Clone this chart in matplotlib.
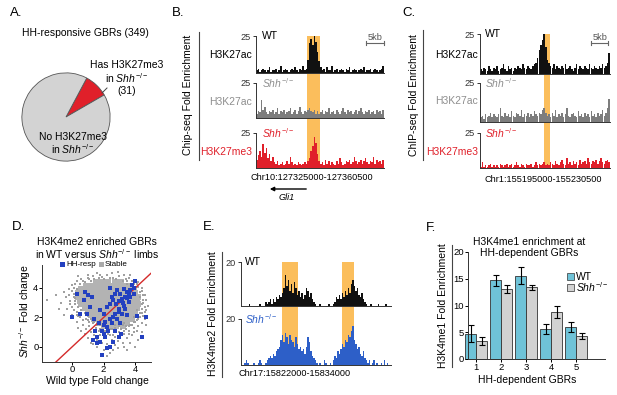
import numpy as np
import matplotlib
matplotlib.use("Agg")
import matplotlib.pyplot as plt
from matplotlib.lines import Line2D
from matplotlib.patches import Rectangle, FancyArrowPatch

plt.rcParams['font.family'] = ['Liberation Sans', 'DejaVu Sans']
plt.rcParams['mathtext.fontset'] = 'custom'
plt.rcParams['mathtext.rm'] = 'Liberation Sans'
plt.rcParams['mathtext.it'] = 'Liberation Sans:italic'
plt.rcParams['mathtext.bf'] = 'Liberation Sans:bold'

# ---------------- data ----------------
pie_labels = ["Has H3K27me3", "No H3K27me3"]
pie_counts = [31, 318]

B_WT_AC = [2,3,1,2,3,2,1,2,4,1, 2,2,3,1,2,5,1,2,3,2, 1,2,3,2,4,2,1,3,2,5, 2,3,9,20,23,19,25,21,14,8,
           4,2,3,1,4,2,2,5,1,2, 3,1,2,3,2,1,3,2,4,1, 2,3,2,1,2,3,2,4,1,2, 2,3,1,2,3,2,1,2,3,5]
B_SHH_AC = [3,5,4,13,6,8,4,3,5,4, 6,3,4,7,3,5,4,6,3,4, 5,7,3,4,6,3,5,8,4,3, 5,4,6,7,5,4,6,3,5,3,
            4,6,3,5,4,7,3,4,5,3, 6,4,3,5,7,4,3,6,4,5, 3,4,6,3,5,7,4,3,5,4, 6,3,4,5,3,6,4,5,3,6]
B_SHH_ME3 = [6,9,12,8,17,11,14,7,10,5, 8,4,3,5,2,3,4,2,3,5, 3,8,4,2,3,2,4,3,2,3, 4,3,5,7,12,16,22,18,10,5,
             3,4,2,6,3,5,2,4,3,2, 5,3,7,4,2,3,5,4,6,3, 4,8,5,3,4,6,3,5,7,4, 3,5,4,8,3,6,4,5,3,6]
B_HIGHLIGHT = (31.5, 39.5)

C_WT_AC = [3,2,4,3,2,5,3,2,4,3, 5,2,3,4,6,3,2,5,3,4, 2,4,3,5,4,3,6,4,3,5, 4,3,5,6,7,10,15,18,21,25,
           17,9,7,5,4,6,3,5,4,3, 5,4,6,3,4,5,3,2,4,6, 3,5,4,3,5,4,3,6,4,3, 5,4,3,5,4,6,4,5,7,13]
C_SHH_AC = [3,4,2,5,3,4,6,3,5,4, 3,5,9,4,3,6,4,5,3,7, 4,3,6,5,4,8,3,5,4,6, 3,5,4,7,5,4,6,5,8,9,
            6,4,5,3,6,4,8,3,5,4, 6,3,5,9,4,3,5,6,4,3, 7,4,5,3,6,4,5,3,7,4, 5,3,6,4,5,8,4,6,9,15]
C_SHH_ME3 = [1,4,1,2,1,2,3,1,2,1, 2,1,3,2,1,2,3,1,2,3, 1,2,4,2,1,3,2,1,3,2, 2,3,1,2,4,2,3,2,3,4,
             2,3,2,4,3,2,5,3,2,4, 6,3,2,7,3,4,2,5,3,4, 2,6,3,4,5,3,7,4,3,5, 4,6,3,5,7,4,3,5,6,4]
C_HIGHLIGHT = (38.7, 42.5)

E_WT = [0,0,0,0,0,1,0,0,0,0, 0,0,1,0,0,0,2,1,2,3, 1,3,2,4,3,5,4,6,8,14, 9,12,7,10,6,11,8,5,7,4,
        6,3,5,8,7,4,6,3,2,1, 0,0,1,0,0,0,0,0,1,0, 0,1,2,4,3,5,3,6,4,7, 5,8,6,10,12,9,7,8,5,4,
        6,3,2,1,0,0,1,0,0,0, 0,1,0,0,0,0,1,0,0,0]
E_SHH = [0,0,1,2,1,0,0,0,1,0, 0,1,2,1,0,0,1,2,3,4, 3,5,4,6,7,8,11,13,10,14, 12,9,13,11,10,8,12,9,7,8,
         6,7,5,8,12,10,6,4,3,2, 1,0,1,0,0,2,1,0,0,1, 0,2,4,3,6,5,7,9,8,11, 10,13,12,15,17,11,9,7,8,5,
         4,6,3,2,1,2,0,1,2,0, 1,0,0,1,0,2,0,1,0,0]
E_HIGHLIGHT_1 = (27.0, 37.5)
E_HIGHLIGHT_2 = (67.0, 74.5)

core_rows = {
    4.4: [1.5, 1.9, 2.3, 2.7, 3.1],
    4.15: [0.9, 1.2, 1.5, 1.8, 2.1, 2.4, 2.7, 3.0, 3.3, 3.6],
    3.9: [0.6, 0.9, 1.2, 1.5, 1.8, 2.1, 2.4, 2.7, 3.0, 3.3, 3.6, 3.9],
    3.65: [0.4, 0.7, 1.0, 1.3, 1.6, 1.9, 2.2, 2.5, 2.8, 3.1, 3.4, 3.7, 4.0],
    3.4: [0.4, 0.7, 1.0, 1.3, 1.6, 1.9, 2.2, 2.5, 2.8, 3.1, 3.4, 3.7, 4.0, 4.2],
    3.15: [0.5, 0.8, 1.1, 1.4, 1.7, 2.0, 2.3, 2.6, 2.9, 3.2, 3.5, 3.8, 4.1],
    2.9: [0.6, 0.9, 1.2, 1.5, 1.8, 2.1, 2.4, 2.7, 3.0, 3.3, 3.6, 3.9, 4.2],
    2.65: [0.8, 1.1, 1.4, 1.7, 2.0, 2.3, 2.6, 2.9, 3.2, 3.5, 3.8, 4.1],
    2.4: [1.0, 1.3, 1.6, 1.9, 2.2, 2.5, 2.8, 3.1, 3.4, 3.7, 4.0],
    2.15: [1.2, 1.5, 1.8, 2.1, 2.4, 2.7, 3.0, 3.3, 3.6, 3.9],
    1.9: [1.4, 1.7, 2.0, 2.3, 2.6, 2.9, 3.2, 3.5, 3.8],
    1.65: [1.7, 2.0, 2.3, 2.6, 2.9, 3.2, 3.5],
    1.4: [2.0, 2.4, 2.8, 3.2],
}
stable_sparse = [(0.3,4.5),(0.6,4.6),(1.0,4.7),(1.3,4.8),(1.9,4.75),(2.2,4.9),(2.6,4.7),(3.0,4.8),(3.4,4.6),
    (3.8,4.5),(4.1,4.3),(4.4,4.0),(3.7,4.9),(1.6,5.0),(2.9,5.1),(0.0,4.2),(-0.2,3.9),(0.1,3.6),(-0.4,3.4),
    (-0.1,3.1),(0.2,2.9),(-0.3,2.6),(0.3,2.4),(0.0,2.2),(0.5,2.0),(0.3,1.7),(0.7,1.5),(1.0,1.8),(0.9,1.2),
    (1.2,1.0),(1.1,1.4),(1.4,0.8),(1.5,1.3),(1.7,1.1),(1.6,0.5),(1.8,0.8),(1.9,0.3),(2.0,1.0),(2.1,0.6),
    (2.2,0.2),(2.3,0.9),(2.4,1.2),(2.5,0.5),(2.6,0.8),(2.7,0.1),(2.8,1.0),(2.9,0.4),(3.0,0.7),(3.1,1.2),
    (3.2,0.3),(3.3,0.9),(3.4,1.4),(3.5,0.6),(3.6,1.1),(3.7,1.5),(3.8,0.8),(3.9,1.3),(4.0,1.7),(4.1,1.1),
    (4.2,1.9),(4.3,2.3),(4.4,2.6),(4.5,3.0),(4.6,2.4),(4.5,3.5),(4.7,3.2),(4.4,1.6),(4.6,1.9),(4.8,2.8),
    (-1.6,3.2),(-0.7,3.0),(-0.5,2.2),(0.6,1.1),(1.3,0.2),(2.0,-0.2),(2.4,-0.4),(2.9,-0.1),(3.3,0.0),
    (3.7,0.3),(1.0,0.6),(0.4,1.3),(4.2,0.5),(4.0,0.0),(2.6,-0.2),(0.8,4.4),(1.2,4.5),(3.5,4.3),(4.0,3.9),
    (4.3,3.7),(0.2,3.3),(0.0,2.7),(0.4,2.1),(0.7,1.8),(1.3,1.6),(1.8,1.5),(4.1,2.5),(4.3,2.0),(3.9,2.0),
    (3.2,1.5),(2.7,1.5),
    (0.1,4.0),(0.3,3.9),(0.2,4.3),(0.5,4.3),(0.7,4.5),(1.1,4.6),(1.4,4.6),(1.7,4.7),(2.0,4.6),(2.4,4.7),
    (2.8,4.6),(3.2,4.5),(3.5,4.5),(3.9,4.3),(4.2,4.1),(4.4,3.8),(4.3,3.4),(4.5,3.2),(4.4,2.9),(4.6,2.7),
    (4.4,2.3),(4.2,2.2),(4.1,1.8),(3.9,1.7),(3.8,1.5),(3.6,1.4),(3.4,1.2),(3.3,1.6),(3.0,1.4),(2.7,1.3),
    (2.5,1.2),(2.2,1.3),(1.9,1.4),(1.6,1.5),(1.4,1.7),(1.2,1.9),(1.0,2.1),(0.8,2.3),(0.6,2.5),(0.4,2.7),
    (0.2,3.1),(0.1,3.4),(0.0,3.8),(-0.2,3.5),(-0.1,2.9),(0.1,2.5),(0.3,2.2),(0.6,2.2),(0.9,1.9),(1.1,1.7),
    (1.5,1.1),(1.8,1.2),(2.1,1.1),(2.4,0.8),(2.7,0.7),(3.0,1.0),(3.3,1.1),(3.6,0.9),(3.9,1.0),(4.2,1.4),
    (4.5,2.1),(4.7,2.5),(4.6,3.5),(4.2,4.4),(3.6,4.7),(3.3,4.9),(2.5,5.0),(1.8,4.9),(1.0,4.9),(0.4,4.8),
    (-0.5,3.7),(-0.8,2.6),(-1.0,3.5),(1.6,0.0),(2.2,-0.6),(3.5,-0.2),(4.4,1.0),(4.7,1.5),(1.2,0.3),(0.8,0.9)]
hh_resp = [(0.0,2.0),(0.74,3.16),(0.84,3.72),(1.16,2.7),(1.37,1.92),(1.58,0.68),(1.79,0.34),(1.9,-0.56),
    (2.0,0.9),(2.2,1.35),(2.4,0.0),(2.6,0.34),(2.7,1.1),(2.95,0.68),(3.05,1.6),(3.26,2.8),(3.37,3.4),
    (3.47,3.7),(3.68,3.84),(3.8,4.2),(4.0,4.5),(4.1,2.1),(4.4,0.68),(4.7,2.0),(1.8,2.5),(2.0,2.25),
    (2.2,2.7),(2.4,2.9),(2.5,3.4),(2.6,3.2),(2.7,3.6),(2.85,3.84),(3.05,3.6),(3.16,3.27),(2.95,2.6),
    (2.7,2.25),(2.4,1.9),(2.1,1.7),(2.3,1.1),(2.5,1.6),(2.85,1.9),(3.16,2.25),(3.37,2.6),(3.58,3.05),
    (3.68,3.4),(3.9,3.6),(1.47,1.1),(1.68,1.6),(1.9,1.1),(2.1,0.68),(0.95,2.25),(1.26,3.4),(0.5,2.25),
    (3.3,3.9),(3.5,3.3),(3.0,3.1),(2.8,2.9),(3.2,3.0),(3.6,3.6),(2.6,2.0),(3.0,2.4),(1.6,0.3),(2.2,-0.1),
    (3.1,0.9),(2.0,1.5),(1.3,0.5),(3.5,2.2),(0.3,3.6),(2.4,4.0),(3.9,4.0),(1.0,3.5)]

F_groups = ["1", "2", "3", "4", "5"]
F_wt = [4.7, 14.7, 15.6, 5.6, 6.0]
F_wt_err = [1.6, 1.0, 1.55, 0.9, 0.95]
F_shh = [3.4, 13.1, 13.4, 8.85, 4.3]
F_shh_err = [0.75, 0.8, 0.45, 1.15, 0.55]

# ---------------- styles ----------------
RED = '#E0202A'
GRAY_T = '#7D7D7D'
GRAY_L = '#8E8E8E'
BLUE_T = '#2D5FC8'
ORANGE = '#FBBE5C'
PIE_GRAY = '#D3D3D3'
F_BLUE = '#6FC3D8'
F_GRAY = '#D2D2D2'
FS = 7.5
FS_S = 6.6

W, H = 617, 395
fig = plt.figure(figsize=(W/100, H/100), dpi=100)

def fx(x): return x / W
def fy(y): return 1 - y / H

def T(x, y, s, **kw):
    kw.setdefault('fontsize', FS)
    kw.setdefault('va', 'center')
    return fig.text(fx(x), fy(y), s, **kw)

def add_ax(l, t, r, b):
    return fig.add_axes([l / W, 1 - b / H, (r - l) / W, (b - t) / H])

def vline(x, y0, y1, color='#444444', lw=0.8):
    fig.add_artist(Line2D([fx(x), fx(x)], [fy(y0), fy(y1)], color=color, lw=lw))

def hline(x0, x1, y, color='#444444', lw=0.8):
    fig.add_artist(Line2D([fx(x0), fx(x1)], [fy(y), fy(y)], color=color, lw=lw))

def square(x0, y0, w, h, fc, ec='none', lw=0.5):
    fig.add_artist(Rectangle((fx(x0), fy(y0 + h)), w / W, h / H, transform=fig.transFigure,
                             facecolor=fc, edgecolor=ec, lw=lw))

SHH = r'$\mathit{Shh}^{-/-}$'

def track(l, t, r, b, vals, color, ymax, width=0.95):
    ax = add_ax(l, t, r, b)
    ax.patch.set_alpha(0)
    n = len(vals)
    ax.bar(np.arange(n), vals, width=width, color=color, lw=0)
    ax.set_xlim(-0.5, n - 0.5)
    ax.set_ylim(0, ymax)
    for s in ['top', 'right']:
        ax.spines[s].set_visible(False)
    for s in ['left', 'bottom']:
        ax.spines[s].set_color('#333333')
        ax.spines[s].set_linewidth(0.7)
    ax.set_xticks([])
    ax.set_yticks([ymax])
    ax.set_yticklabels([str(ymax)])
    ax.tick_params(axis='y', length=2.5, width=0.7, pad=1, labelsize=FS_S, colors='#333333')
    return ax

def highlight(l, t, r, b, n, spans):
    ax = add_ax(l, t, r, b)
    ax.set_xlim(-0.5, n - 0.5)
    ax.set_ylim(0, 1)
    for a, c in spans:
        ax.axvspan(a, c, color=ORANGE, lw=0)
    ax.axis('off')

# ---------------- A ----------------
T(10, 13, 'A.', fontsize=9.5)
T(85, 33, 'HH-responsive GBRs (349)', ha='center')
axp = add_ax(21, 72, 111, 162)
axp.pie(pie_counts, colors=[RED, PIE_GRAY], startangle=30, counterclock=True,
        wedgeprops=dict(edgecolor='#555555', linewidth=0.6))
axp.set_xlim(-1.02, 1.02); axp.set_ylim(-1.02, 1.02)
axp.set_aspect('equal')
T(127, 65, pie_labels[0], ha='center')
T(127, 78, 'in ' + SHH, ha='center')
T(127, 91, '(31)', ha='center')
fig.add_artist(Line2D([fx(102), fx(107)], [fy(93), fy(88)], color='#444444', lw=0.7))
T(73, 137, pie_labels[1], ha='center')
T(73, 149, 'in ' + SHH, ha='center')

# ---------------- B ----------------
T(172, 13, 'B.', fontsize=9.5)
T(188, 95, 'Chip-seq Fold Enrichment', rotation=90, ha='center')
vline(199, 32, 160)
nB = len(B_WT_AC)
highlight(256, 36, 384, 168, nB, [B_HIGHLIGHT])
track(256, 36, 384, 73, B_WT_AC, '#111111', 25)
track(256, 83, 384, 118, B_SHH_AC, GRAY_T, 25)
track(256, 133, 384, 168, B_SHH_ME3, RED, 25)
T(262, 36, 'WT')
T(252, 55, 'H3K27ac', ha='right')
T(262, 83, SHH, color=GRAY_L)
T(252, 102, 'H3K27ac', ha='right', color=GRAY_L)
T(262, 133, SHH, color=RED)
T(252, 152, 'H3K27me3', ha='right', color=RED)
hline(366, 384, 43, color='#666666', lw=0.8)
vline(366, 41, 45, color='#666666', lw=0.8); vline(384, 41, 45, color='#666666', lw=0.8)
T(375, 37, '5kb', ha='center', fontsize=FS_S, color='#555555')
T(312, 178, 'Chr10:127325000-127360500', ha='center', fontsize=FS_S)
fig.add_artist(FancyArrowPatch((fx(309), fy(189)), (fx(267), fy(189)),
               transform=fig.transFigure, arrowstyle='-|>', mutation_scale=6, color='black', lw=1.0))
T(287, 198, 'Gli1', ha='center', fontsize=FS_S, style='italic')

# ---------------- C ----------------
T(402, 13, 'C.', fontsize=9.5)
T(414, 95, 'ChIP-seq Fold Enrichment', rotation=90, ha='center')
vline(423, 30, 160)
nC = len(C_WT_AC)
highlight(480, 34, 610, 168, nC, [C_HIGHLIGHT])
track(480, 34, 610, 74, C_WT_AC, '#111111', 25)
track(480, 83, 610, 122, C_SHH_AC, GRAY_T, 25)
track(480, 133, 610, 168, C_SHH_ME3, RED, 25)
T(485, 34, 'WT')
T(478, 55, 'H3K27ac', ha='right')
T(485, 83, SHH, color=GRAY_L)
T(478, 101, 'H3K27ac', ha='right', color=GRAY_L)
T(485, 133, SHH, color=RED)
T(478, 152, 'H3K27me3', ha='right', color=RED)
hline(591, 608, 43, color='#666666', lw=0.8)
vline(591, 41, 45, color='#666666', lw=0.8); vline(608, 41, 45, color='#666666', lw=0.8)
T(600, 37, '5kb', ha='center', fontsize=FS_S, color='#555555')
T(543, 180, 'Chr1:155195000-155230500', ha='center', fontsize=FS_S)

# ---------------- D ----------------
T(12, 227, 'D.', fontsize=9.5)
T(97, 242, 'H3K4me2 enriched GBRs', ha='center')
T(97, 254, 'in WT versus ' + SHH + ' limbs', ha='center')
square(60, 262, 5, 5, '#2340C0')
T(66, 264.5, 'HH-resp', fontsize=5.8)
square(99, 262, 5, 5, '#A9A9A9')
T(105, 264.5, 'Stable', fontsize=5.8)
axd = add_ax(42, 265, 151, 362)
cx = [x for yv, xs in core_rows.items() for x in xs]
cy = [yv for yv, xs in core_rows.items() for x in xs]
axd.scatter(cx, cy, s=24, marker='s', color='#B3B3B3', lw=0)
axd.scatter([p[0] for p in stable_sparse], [p[1] for p in stable_sparse], s=3, marker='s', color='#A0A0A0', lw=0)
axd.plot([-1.3, 5.3], [-1.3, 5.3], color='#D42A2A', lw=1.0)
axd.scatter([p[0] for p in hh_resp], [p[1] for p in hh_resp], s=6, marker='s', color='#2340C0', lw=0, zorder=3)
axd.set_xlim(-1.9, 5.0); axd.set_ylim(-1.02, 5.56)
for s in ['top', 'right']:
    axd.spines[s].set_visible(False)
for s in ['left', 'bottom']:
    axd.spines[s].set_linewidth(0.7); axd.spines[s].set_color('#333333')
axd.set_xticks([0, 2, 4]); axd.set_yticks([0, 2, 4])
axd.tick_params(length=2, width=0.7, pad=0.5, labelsize=6.8)
T(25, 311, SHH + ' Fold change', rotation=90, ha='center')
T(97, 381, 'Wild type Fold change', ha='center')

# ---------------- E ----------------
T(203, 227, 'E.', fontsize=9.5)
T(213, 314, 'H3K4me2 Fold Enrichment', rotation=90, ha='center')
vline(222, 252, 377)
nE = len(E_WT)
highlight(241, 262, 391, 365, nE, [E_HIGHLIGHT_1, E_HIGHLIGHT_2])
track(241, 262, 391, 306, E_WT, '#111111', 20, width=1.0)
track(241, 319, 391, 365, E_SHH, BLUE_T, 20, width=1.0)
T(245, 262, 'WT')
T(245, 319, SHH, color=BLUE_T)
T(295, 374, 'Chr17:15822000-15834000', ha='center', fontsize=FS_S)

# ---------------- F ----------------
T(426, 228, 'F.', fontsize=9.5)
T(529, 242, 'H3K4me1 enrichment at', ha='center')
T(529, 253, 'HH-dependent GBRs', ha='center')
T(443, 306, 'H3K4me1 Fold Enrichment', rotation=90, ha='center')
vline(452, 245, 367)
axf = add_ax(468, 252, 605, 359)
xi = np.arange(1, len(F_groups) + 1)
axf.bar(xi - 0.22, F_wt, width=0.44, color=F_BLUE, edgecolor='#333333', lw=0.6, clip_on=False,
        yerr=F_wt_err, error_kw=dict(ecolor='black', elinewidth=0.8, capsize=2.5, capthick=0.8))
axf.bar(xi + 0.22, F_shh, width=0.44, color=F_GRAY, edgecolor='#333333', lw=0.6, clip_on=False,
        yerr=F_shh_err, error_kw=dict(ecolor='black', elinewidth=0.8, capsize=2.5, capthick=0.8))
axf.set_xlim(0.68, 6.16); axf.set_ylim(0, 20)
axf.set_xticks(xi); axf.set_xticklabels(F_groups)
axf.set_yticks([0, 5, 10, 15, 20])
for s in ['top', 'right']:
    axf.spines[s].set_visible(False)
for s in ['left', 'bottom']:
    axf.spines[s].set_linewidth(0.7); axf.spines[s].set_color('#333333')
axf.tick_params(length=2, width=0.7, pad=0.8, labelsize=6.8)
T(527, 380, 'HH-dependent GBRs', ha='center')
square(567, 273, 7, 7, F_BLUE, ec='#333333')
T(576, 276.5, 'WT')
square(567, 284, 7, 7, F_GRAY, ec='#333333')
T(576, 287.5, SHH)

fig.savefig('out.png', dpi=100)
